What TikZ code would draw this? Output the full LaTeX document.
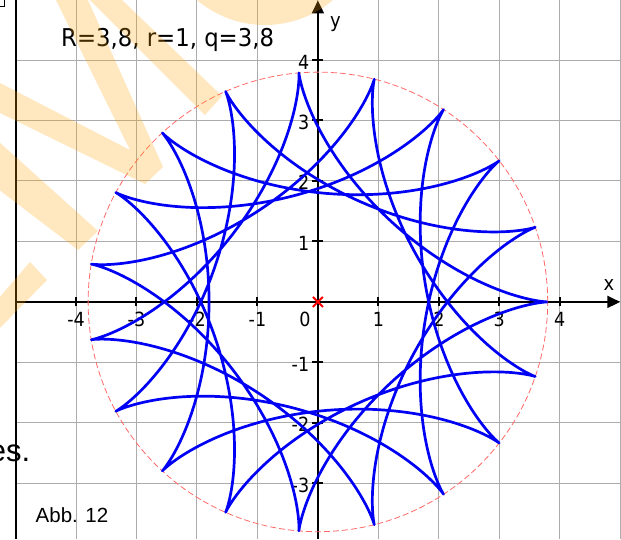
\documentclass[tikz,border=0pt]{standalone}
\usepackage{fontspec}
\newfontfamily\tahfont[FakeStretch=0.9]{DejaVu Sans}
\newfontfamily\titlefont[FakeStretch=0.93]{DejaVu Sans}
\newfontfamily\arifont{Liberation Sans}
\usetikzlibrary{arrows.meta}
\definecolor{gridgray}{RGB}{172,172,172}
\definecolor{curveblue}{RGB}{0,0,245}
\definecolor{circlered}{RGB}{255,105,105}
\definecolor{wmorange}{RGB}{255,165,0}
\begin{document}
\begin{tikzpicture}[x=1pt,y=-1pt,
  gridline/.style={draw=gridgray,line width=1pt},
  axisline/.style={draw=black,line width=2pt},
  tickmark/.style={draw=black,line width=2pt},
  ticklabel/.style={inner sep=0pt,font=\tahfont\fontsize{19.5}{20}\selectfont},
  axislabel/.style={inner sep=0pt,font=\tahfont\fontsize{20}{21}\selectfont},
  curvepath/.style={draw=curveblue,line width=2.7pt,line join=round},
  envcircle/.style={draw=circlered,line width=0.8pt,dash pattern=on 6pt off 3pt},
  wmark/.style={fill=wmorange,fill opacity=0.25}
]
\useasboundingbox (0,0) rectangle (621,539);
\fill[white] (0,0) rectangle (621,539);
\clip (0,0) rectangle (621,539);

% small corner mark
\draw[black,line width=1pt] (0,6.5) -- (4.5,6.5) -- (4.5,0);

\begin{scope}[shift={(317.9,301.9)},x=60.47pt,y=60.47pt]
  \coordinate (O) at (0,0);
  % grid
  \foreach \k in {-4,...,5} \draw[gridline] (\k,4.993) -- (\k,-3.921);
  \foreach \k in {-3,...,4} \draw[gridline] (-5,\k) -- (5.02,\k);
  % left frame line
  \coordinate (ft) at (-5,4.993);
  \coordinate (fb) at (-5,-3.921);
  \draw[axisline] (ft) -- (fb);
  % axes
  \coordinate (xs) at (-5,0);
  \coordinate (xe) at (5.0,0);
  \coordinate (ys) at (0,-3.921);
  \coordinate (ye) at (0,4.985);
  \draw[axisline,-{Triangle[length=13pt,width=12pt]}] (xs) -- (xe);
  \draw[axisline,-{Triangle[length=13pt,width=12pt]}] (ys) -- (ye);
  % ticks and labels
  \foreach \k in {-4,-3,-2,-1,1,2,3,4} {
    \draw[tickmark] (\k,0) ++(0,-4.5pt) -- ++(0,9pt);
    \draw[tickmark] (0,\k) ++(-5.5pt,0) -- ++(11pt,0);
    \node[ticklabel,anchor=base] (xl\k) at ([yshift=-25pt]\k,0) {\k};
  }
  \foreach \k in {-3,-2,-1,1,2,3,4} {
    \node[ticklabel,anchor=base east] (yl\k) at ([xshift=-8.5pt,yshift=-9pt]0,\k) {\k};
  }
  \node[ticklabel,anchor=base] (xl0) at ([xshift=-13pt,yshift=-25pt]O) {0};
  % envelope circle
  \draw[envcircle] (O) circle[radius=3.8];
  % hypocycloid R=3.8, r=1
  \draw[curvepath] plot[domain=0:31.4159,samples=1600,variable=\t]
    ({2.8*cos(deg(\t))+cos(deg(2.8*\t))},{2.8*sin(deg(\t))-sin(deg(2.8*\t))});
  % red cross at origin
  \draw[red,line width=2pt] (O) ++(-5pt,-5pt) -- ++(10pt,10pt);
  \draw[red,line width=2pt] (O) ++(-5pt,5pt) -- ++(10pt,-10pt);
\end{scope}

% axis names
\node[axislabel,anchor=base west] (xname) at (603.5,290) {x};
\node[axislabel,anchor=base west] (yname) at (330,27) {y};

% title
\node[inner sep=0pt,anchor=base west,font=\titlefont\fontsize{24.5}{26}\selectfont] (title) at (61,46) {R=3,8, r=1, q=3,8};

% page text fragments
\node[inner sep=0pt,anchor=base east,font=\arifont\fontsize{31}{33}\selectfont] (es) at (30.5,461.7) {es.};
\node[inner sep=0pt,anchor=base west,font=\arifont\fontsize{20.5}{22}\selectfont] (abb) at (35.5,522.7) {Abb. 12};

% watermark
\fill[wmark]
  (55,-2) -- (87,-2) -- (163,167) -- (145,184) -- (-2,112) -- (-2,82) -- (130,150) -- cycle
  (88,-2) -- (120,-2) -- (222,96) -- (205,115) -- cycle
  (-2,141) -- (98,231) -- (78,250) -- (-2,189) -- cycle
  (-2,299) -- (30,262) -- (47,280) -- (-2,330) -- cycle
  (265,-80) circle[radius=105];
\end{tikzpicture}
\end{document}
